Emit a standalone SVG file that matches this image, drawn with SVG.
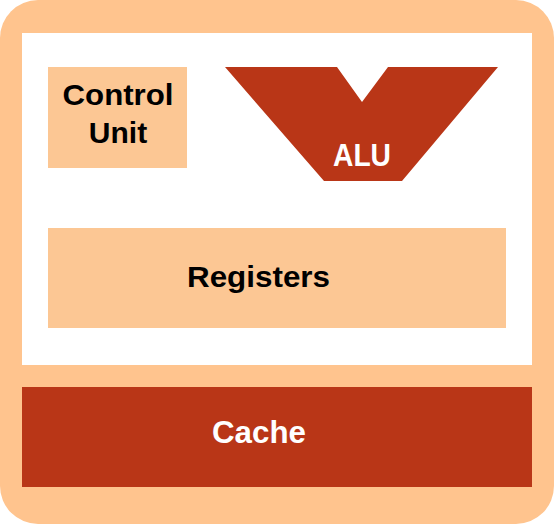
<svg xmlns="http://www.w3.org/2000/svg" width="554" height="524" viewBox="0 0 554 524">
<style>
.light{fill:#FCC794}
.dark{fill:#B93617}
.bt{font-family:"Liberation Sans",Arial,sans-serif;font-weight:bold;font-size:30px;text-anchor:middle;fill:#000}
.wt{font-family:"Liberation Sans",Arial,sans-serif;font-weight:bold;font-size:31px;text-anchor:middle;fill:#fff}
</style>
<g id="cpu">
<rect x="0" y="0" width="554" height="524" rx="38" fill="#FFC48E"/>
<rect x="22" y="33" width="510" height="332" fill="#fff"/>
</g>
<g id="control-unit">
<rect class="light" x="48" y="67" width="139" height="101"/>
<text class="bt" x="118" y="105" textLength="111" lengthAdjust="spacingAndGlyphs">Control</text>
<text class="bt" x="118" y="143">Unit</text>
</g>
<g id="alu">
<polygon class="dark" points="225,67 337,67 362,102 388,67 498,67 402,181 324,181"/>
<text class="wt" x="362" y="166" textLength="58" lengthAdjust="spacingAndGlyphs">ALU</text>
</g>
<g id="registers">
<rect class="light" x="48" y="228" width="458" height="100"/>
<text class="bt" x="258.5" y="287" textLength="143" lengthAdjust="spacingAndGlyphs">Registers</text>
</g>
<g id="cache">
<rect class="dark" x="22" y="387" width="510" height="100"/>
<text class="wt" x="259" y="443" textLength="94" lengthAdjust="spacingAndGlyphs">Cache</text>
</g>
<g id="connectors"/>
</svg>
